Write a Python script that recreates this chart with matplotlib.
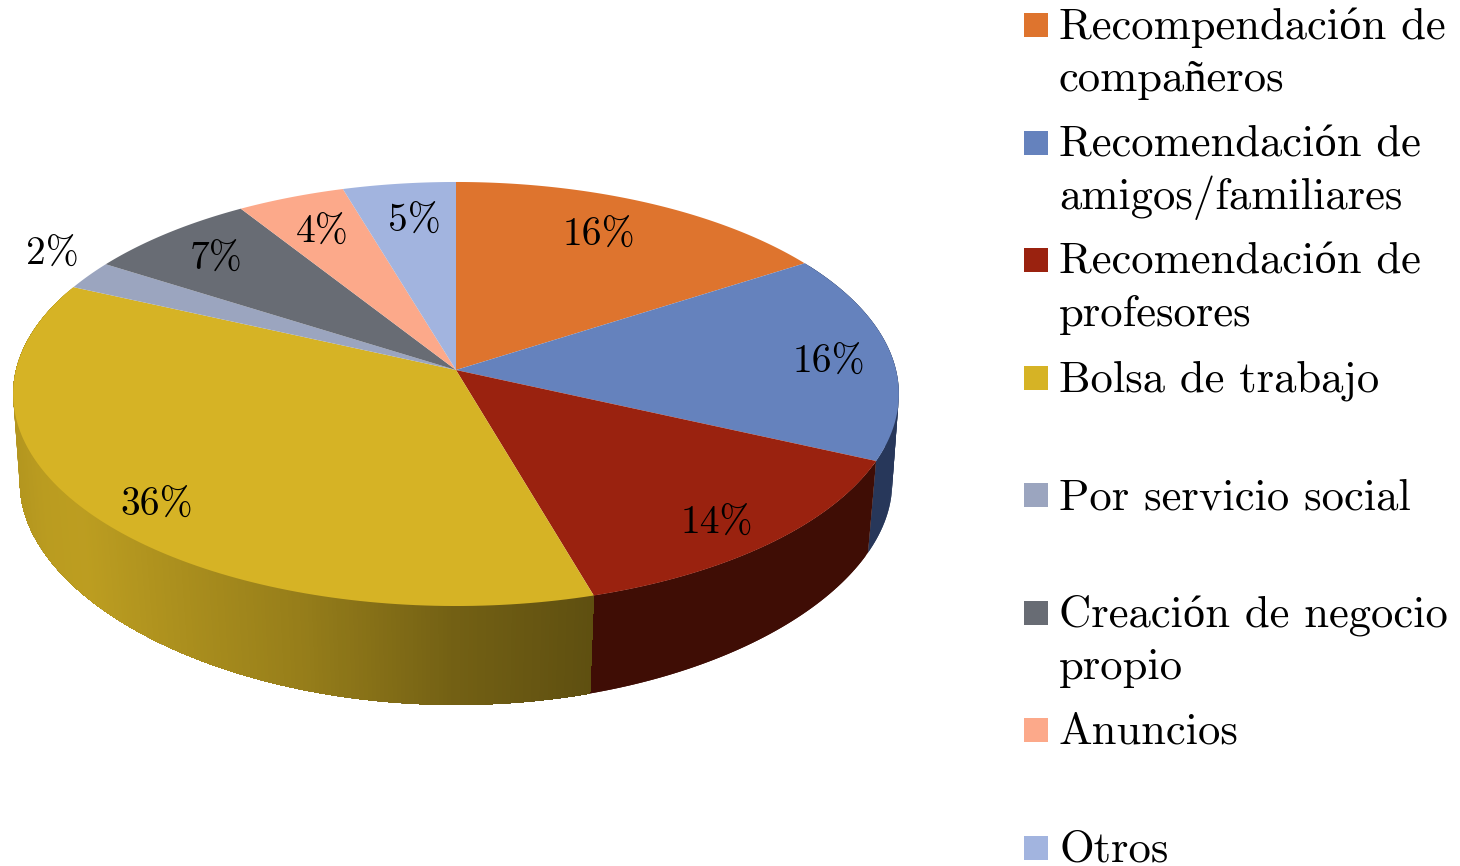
import numpy as np
import matplotlib
matplotlib.use("Agg")
from matplotlib import pyplot as plt
from matplotlib.patches import Rectangle

categories = ["Recompendación de\ncompañeros", "Recomendación de\namigos/familiares",
              "Recomendación de\nprofesores", "Bolsa de trabajo", "Por servicio social",
              "Creación de negocio\npropio", "Anuncios", "Otros"]
values = [15.9, 15.9, 13.7, 36.3, 2.2, 7.0, 4.4, 4.6]
colors = ["#DE742E", "#6582BD", "#9A220F", "#D6B325", "#9BA5BF", "#686C74", "#FCA98A", "#A2B4DF"]

# where the percent labels sit, in pixels
label_xy = [(599, 236), (829, 363), (717, 524), (157, 506), (52, 255), (216, 260), (322, 233), (414, 222)]

plt.rcParams['font.family'] = ['cmr10', 'Liberation Serif']


def top(theta):
    # perspective view of the upper rim, theta clockwise from the back
    t = np.radians(theta)
    w = 1 + 0.1132 * np.cos(t)
    return 456 + 440 * np.sin(t) / w, 370 - 209.3 * np.cos(t) / w


def bottom(theta):
    # lower rim, fitted by eye
    t = np.radians(theta)
    return 456 + 434 * np.sin(t) / (1 + 0.1 * np.cos(t)), 462 - 204 * np.cos(t) / (1 + 0.16 * np.cos(t))


fig = plt.figure(figsize=(14.6, 8.66), dpi=100)
ax = fig.add_axes([0, 0, 1, 1])
ax.set_xlim(0, 1460)
ax.set_ylim(866, 0)
ax.axis('off')

edges = 360 * np.concatenate([[0], np.cumsum(values)]) / np.sum(values)

# side wall, only the front three slices show
# blue and red are flat, yellow gets darker to the right
for i, col in [(1, "#27375A"), (2, "#3F0D05")]:
    for t0 in np.arange(edges[i], edges[i + 1], 1.0):
        t = np.linspace(t0, min(t0 + 2.0, edges[i + 1]), 5)
        x1, y1 = top(t)
        x2, y2 = bottom(t[::-1])
        ax.fill(np.r_[x1, x2], np.r_[y1, y2], color=col, lw=0)

shade_x = [15, 40, 80, 150, 300, 450, 595]
shade_f = [0.84, 0.87, 0.88, 0.82, 0.70, 0.54, 0.44]
# from the left edge to the right, each step overlaps the one before
for t0 in np.arange(edges[4], edges[3], -0.5):
    t = np.linspace(edges[3], t0, 60)
    x1, y1 = top(t)
    x2, y2 = bottom(t[::-1])
    f = np.interp(top(t0)[0], shade_x, shade_f)
    col = tuple(f * v for v in matplotlib.colors.to_rgb(colors[3]))
    ax.fill(np.r_[x1, x2], np.r_[y1, y2], color=col, lw=0)

# top surface
for i, col in enumerate(colors):
    t = np.linspace(edges[i], edges[i + 1], 120)
    x, y = top(t)
    ax.fill(np.r_[456, x], np.r_[370, y], color=col, lw=0)

for (lx, ly), v in zip(label_xy, values):
    ax.text(lx, ly, f"{v:.0f}%", fontsize=28.5, ha='center', va='center', color='black')

# legend, one line of text at a time
for i, (name, col) in enumerate(zip(categories, colors)):
    y0 = 13 + i * 117.5
    ax.add_patch(Rectangle((1024, y0), 24, 24, facecolor=col, edgecolor='none'))
    for j, line in enumerate(name.split("\n")):
        ax.text(1059, y0 + 26 + j * 52, line, fontsize=32.15, ha='left', va='baseline', color='black')

fig.savefig('out.png', dpi=100)
